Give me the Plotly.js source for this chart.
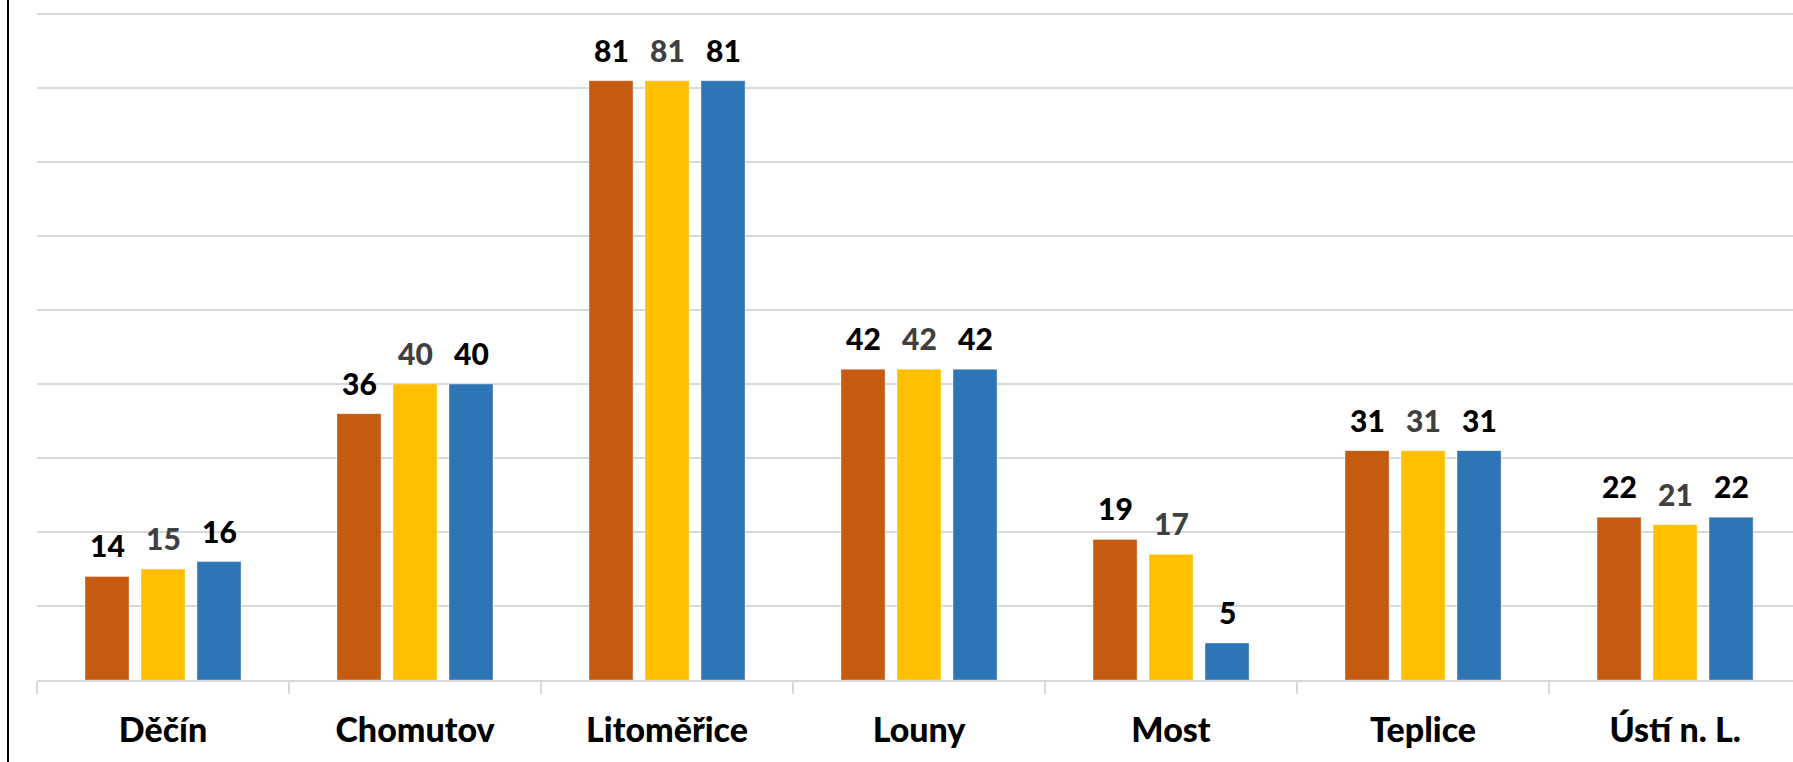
<!DOCTYPE html>
<html>
<head>
<meta charset="utf-8">
<script src="https://cdn.plot.ly/plotly-3.0.1.min.js"></script>
<style>
  html, body { margin: 0; padding: 0; background: #ffffff; overflow: hidden; }
  #chart { width: 1793px; height: 762px; }
  #frame { position: absolute; left: 7px; top: 0; width: 2px; height: 762px; background: #000; }
</style>
</head>
<body>
<div id="chart"></div>
<div id="frame"></div>
<script>
const categories = ["Děčín", "Chomutov", "Litoměřice", "Louny", "Most", "Teplice", "Ústí n. L."];
const series1 = [14, 36, 81, 42, 19, 31, 22];
const series2 = [15, 40, 81, 42, 17, 31, 21];
const series3 = [16, 40, 81, 42, 5, 31, 22];
const seriesNames = ["Řada 1", "Řada 2", "Řada 3"];
const seriesColors = ["#C55A11", "#FFC000", "#2E75B6"];
const labelColors = ["#000000", "#404040", "#000000"];

const allSeries = [series1, series2, series3];
const FONT = "Lato, 'Open Sans', sans-serif";

const traces = allSeries.map((vals, i) => ({
  type: "bar",
  name: seriesNames[i],
  x: categories,
  y: vals,
  marker: { color: seriesColors[i], line: { color: "rgba(255,255,255,0.35)", width: 1 } },
  hoverinfo: "x+y"
}));

const annotations = [];
allSeries.forEach((vals, i) => {
  vals.forEach((v, j) => {
    annotations.push({
      x: categories[j], y: v, xref: "x", yref: "y",
      text: String(v),
      showarrow: false,
      xanchor: "center", yanchor: "bottom",
      xshift: (i - 1) * 56, yshift: 11,
      font: { family: FONT, size: 30, color: labelColors[i], weight: 900 }
    });
  });
});

const layout = {
  width: 1793, height: 762,
  margin: { l: 37, r: 0, t: 13, b: 82, pad: 0 },
  paper_bgcolor: "#ffffff", plot_bgcolor: "#ffffff",
  showlegend: false,
  barmode: "group",
  bargap: 0.3333,
  bargroupgap: 0.2143,
  font: { family: FONT },
  xaxis: {
    type: "category",
    range: [-0.5, 6.468],
    showgrid: false,
    showline: true, linecolor: "#d9d9d9", linewidth: 1.5,
    ticks: "outside", tickson: "boundaries", ticklen: 12, tickcolor: "#d9d9d9", tickwidth: 1.5,
    tickfont: { family: FONT, size: 34, color: "#000000", weight: 900 },
    ticklabelstandoff: 20,
    zeroline: false,
    fixedrange: true
  },
  yaxis: {
    range: [0, 90.15], tick0: 0, dtick: 10,
    showgrid: true, gridcolor: "#d9d9d9", gridwidth: 1.5,
    showticklabels: false, ticks: "",
    zeroline: false, showline: false,
    fixedrange: true
  },
  annotations: annotations
};

Plotly.newPlot("chart", traces, layout, { displayModeBar: false, staticPlot: true });
</script>
</body>
</html>
